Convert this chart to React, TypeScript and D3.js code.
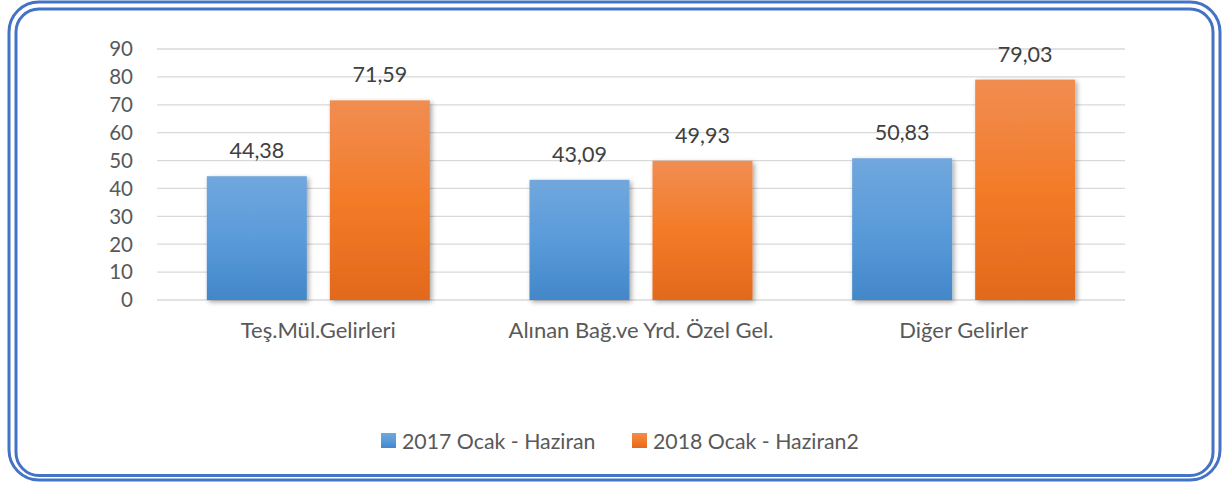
import React from "react";
import * as d3 from "d3";

const categories = ["Teş.Mül.Gelirleri", "Alınan Bağ.ve Yrd. Özel Gel.", "Diğer Gelirler"];
const seriesNames = ["2017 Ocak - Haziran", "2018 Ocak - Haziran2"];
const values2017 = [44.38, 43.09, 50.83];
const values2018 = [71.59, 49.93, 79.03];
const yTicks = [0, 10, 20, 30, 40, 50, 60, 70, 80, 90];

const W = 1223;
const H = 482;
const FONT = "Lato, 'Open Sans', sans-serif";

export default function App() {
  const x0 = d3.scaleBand<string>().domain(categories).range([157, 1125]).paddingInner(0).paddingOuter(0);
  const x1 = d3
    .scaleBand<string>()
    .domain(seriesNames)
    .range([0, x0.bandwidth()])
    .paddingInner(0.187)
    .paddingOuter(0.405);
  const y = d3.scaleLinear().domain([0, 90]).range([300, 49]);
  const fmt = (v: number) => v.toFixed(2).replace(".", ",");
  const seriesValues = [values2017, values2018];
  const gradIds = ["gBlue", "gOrange"];
  const legendX = [381, 632];

  return (
    <svg
      width={W}
      height={H}
      style={{ position: "absolute", left: 0, top: 0, background: "#fff" }}
      fontFamily={FONT}
    >
      <defs>
        <linearGradient id="gBlue" x1="0" y1="0" x2="0" y2="1">
          <stop offset="0%" stopColor="#71A7DD" />
          <stop offset="50%" stopColor="#5A9BDA" />
          <stop offset="100%" stopColor="#4387C9" />
        </linearGradient>
        <linearGradient id="gOrange" x1="0" y1="0" x2="0" y2="1">
          <stop offset="0%" stopColor="#F18D52" />
          <stop offset="50%" stopColor="#F37B28" />
          <stop offset="100%" stopColor="#E2691B" />
        </linearGradient>
        <filter id="shadow" x="-20%" y="-20%" width="140%" height="140%">
          <feDropShadow dx="2" dy="2" stdDeviation="2.5" floodColor="#000" floodOpacity="0.35" />
        </filter>
      </defs>
      <rect x={0} y={0} width={W} height={H} fill="#fff" />
      {/* borders */}
      <rect x={9} y={2} width={1211} height={478} rx={30} ry={30} fill="none" stroke="#4472C4" strokeWidth={3} />
      <rect x={16} y={9} width={1197} height={466.5} rx={23} ry={23} fill="none" stroke="#4472C4" strokeWidth={3} />

      {/* grid */}
      {yTicks.map((t) => (
        <g key={t}>
          <line x1={157} x2={1125} y1={y(t)} y2={y(t)} stroke="#D9D9D9" strokeWidth={1.3} />
          <text x={133} y={y(t)} dy="0.36em" textAnchor="end" fontSize={20.5} fill="#595959">
            {t}
          </text>
        </g>
      ))}

      {/* bars */}
      {categories.map((c, ci) => (
        <g key={c} transform={`translate(${x0(c)},0)`}>
          {seriesNames.map((s, si) => {
            const v = seriesValues[si][ci];
            const bx = x1(s)!;
            return (
              <g key={s}>
                <rect
                  x={bx}
                  y={y(v)}
                  width={x1.bandwidth()}
                  height={y(0) - y(v)}
                  fill={`url(#${gradIds[si]})`}
                  filter="url(#shadow)"
                />
                <text
                  x={bx + x1.bandwidth() / 2}
                  y={y(v) - 18}
                  textAnchor="middle"
                  fontSize={21.5}
                  fill="#404040"
                >
                  {fmt(v)}
                </text>
              </g>
            );
          })}
          <text x={x0.bandwidth() / 2} y={330} dy="0.36em" textAnchor="middle" fontSize={22} fill="#595959">
            {c}
          </text>
        </g>
      ))}

      {/* legend */}
      {seriesNames.map((s, si) => (
        <g key={s}>
          <rect x={legendX[si]} y={433} width={15} height={15} fill={`url(#${gradIds[si]})`} />
          <text x={legendX[si] + 21} y={441} dy="0.36em" fontSize={21.3} fill="#595959">
            {s}
          </text>
        </g>
      ))}
    </svg>
  );
}
